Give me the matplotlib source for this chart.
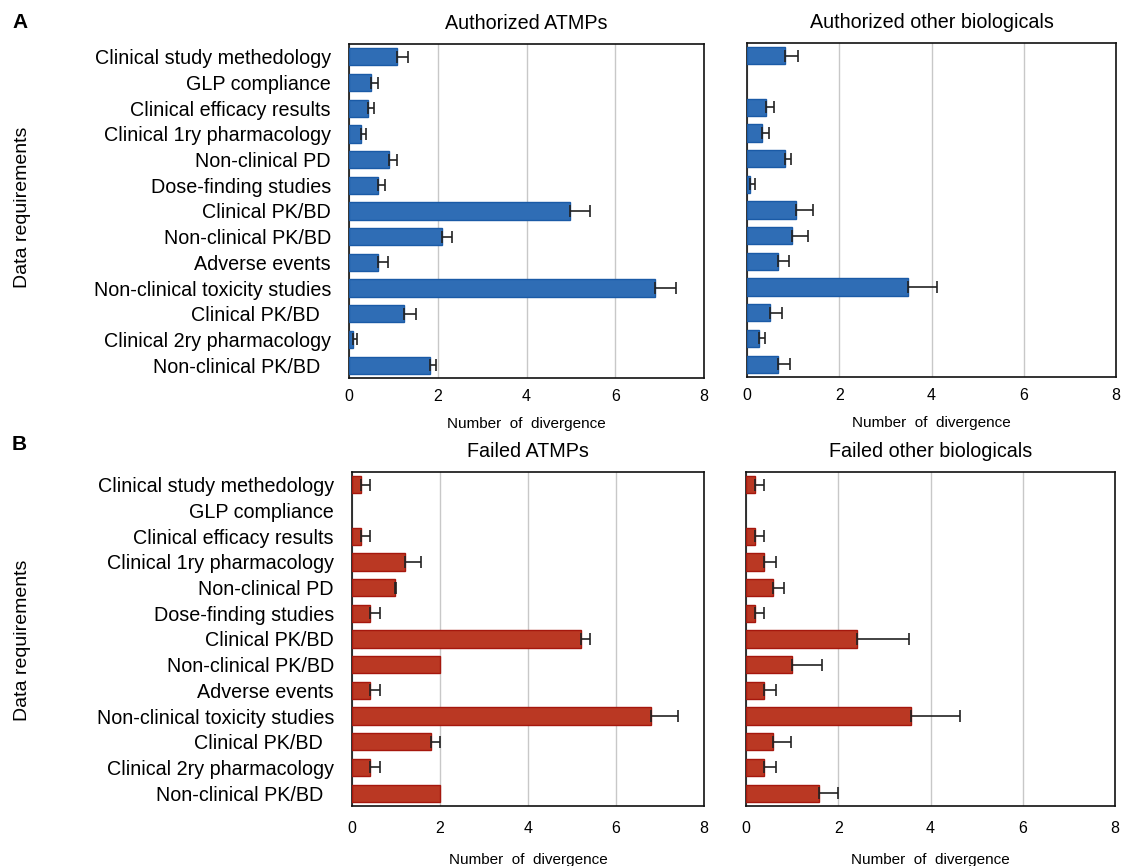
import matplotlib
matplotlib.use("Agg")
import matplotlib.pyplot as plt
import numpy as np

plt.rcParams['font.family'] = ['Liberation Sans', 'DejaVu Sans']

categories = [
    "Clinical study methedology",
    "GLP compliance",
    "Clinical efficacy results",
    "Clinical 1ry pharmacology",
    "Non-clinical PD",
    "Dose-finding studies",
    "Clinical PK/BD",
    "Non-clinical PK/BD",
    "Adverse events",
    "Non-clinical toxicity studies",
    "Clinical PK/BD  ",
    "Clinical 2ry pharmacology",
    "Non-clinical PK/BD  ",
]

auth_atmp = [1.08, 0.49, 0.43, 0.26, 0.90, 0.66, 4.99, 2.09, 0.66, 6.90, 1.24, 0.08, 1.83]
auth_atmp_err = [0.25, 0.17, 0.14, 0.13, 0.18, 0.15, 0.45, 0.23, 0.23, 0.48, 0.27, 0.09, 0.12]

auth_other = [0.82, 0.0, 0.41, 0.33, 0.82, 0.065, 1.06, 0.98, 0.67, 3.50, 0.49, 0.25, 0.67]
auth_other_err = [0.28, 0.0, 0.17, 0.14, 0.14, 0.10, 0.38, 0.35, 0.24, 0.63, 0.27, 0.13, 0.26]

fail_atmp = [0.2, 0.0, 0.2, 1.2, 0.98, 0.4, 5.2, 2.0, 0.4, 6.8, 1.8, 0.4, 2.0]
fail_atmp_err = [0.2, 0.0, 0.2, 0.37, 0.02, 0.24, 0.22, 0.0, 0.24, 0.6, 0.2, 0.24, 0.0]

fail_other = [0.2, 0.0, 0.2, 0.38, 0.59, 0.2, 2.4, 1.0, 0.38, 3.58, 0.59, 0.38, 1.59]
fail_other_err = [0.2, 0.0, 0.2, 0.26, 0.24, 0.2, 1.13, 0.64, 0.26, 1.07, 0.39, 0.26, 0.4]

titles = ["Authorized ATMPs", "Authorized other biologicals",
          "Failed ATMPs", "Failed other biologicals"]
xticks = [0, 2, 4, 6, 8]

W, H = 1121, 866
fig = plt.figure(figsize=(W / 100, H / 100), dpi=100)

def ax_at(l, t, r, b):
    return fig.add_axes([l / W, 1 - b / H, (r - l) / W, (b - t) / H])

blue_face, blue_edge = "#2F6DB5", "#1A5AA6"
red_face, red_edge = "#BA3823", "#A5170D"

panels = [
    (ax_at(349, 44, 704, 378), auth_atmp, auth_atmp_err, blue_face, blue_edge, titles[0], True, 8, 9),
    (ax_at(747, 43, 1116, 377), auth_other, auth_other_err, blue_face, blue_edge, titles[1], False, 8, 9),
    (ax_at(352, 472, 704, 806), fail_atmp, fail_atmp_err, red_face, red_edge, titles[2], True, 11, 12),
    (ax_at(746, 472, 1115, 806), fail_other, fail_other_err, red_face, red_edge, titles[3], False, 11, 12),
]

y = np.arange(len(categories))
for ax, vals, errs, fc, ec, title, showlabels, xpad, lpad in panels:
    vals = np.array(vals)
    errs = np.array(errs)
    nz = vals > 0
    ax.barh(y[nz], vals[nz], height=0.67, color=fc, edgecolor=ec, linewidth=1.0, zorder=3)
    mask = errs > 0
    xerr = np.vstack([np.zeros(mask.sum()), errs[mask]])
    ax.errorbar(vals[mask], y[mask], xerr=xerr, fmt='none',
                ecolor="#222222", elinewidth=1.2, capsize=4, capthick=1.2, zorder=4)
    ax.set_xlim(0, 8)
    ax.set_ylim(len(categories) - 0.5, -0.5)
    ax.set_xticks(xticks)
    ax.set_xticklabels([str(t) for t in xticks], fontsize=11.5)
    ax.tick_params(axis='both', length=0)
    ax.tick_params(axis='x', pad=xpad)
    ax.xaxis.grid(True, color="#c8c8c8", linewidth=1.0, zorder=0)
    ax.set_axisbelow(True)
    for s in ax.spines.values():
        s.set_color("#111111")
        s.set_linewidth(1.2)
    ax.set_title(title, fontsize=14.2, pad=11)
    ax.set_xlabel("Number  of  divergence", fontsize=11, labelpad=lpad)
    ax.set_yticks(y)
    if showlabels:
        ax.set_yticklabels(categories, fontsize=14.2)
        ax.tick_params(axis='y', pad=13)
    else:
        ax.set_yticklabels([])

fig.text(23 / W, 1 - 207 / H, "Data requirements", rotation=90, fontsize=14,
         va='center', ha='center')
fig.text(23 / W, 1 - 640 / H, "Data requirements", rotation=90, fontsize=14,
         va='center', ha='center')
fig.text(12 / W, 1 - 23 / H, "A", fontsize=15, fontweight='bold', va='center', ha='left')
fig.text(12 / W, 1 - 445 / H, "B", fontsize=15, fontweight='bold', va='center', ha='left')

fig.savefig("out.png", dpi=100)
